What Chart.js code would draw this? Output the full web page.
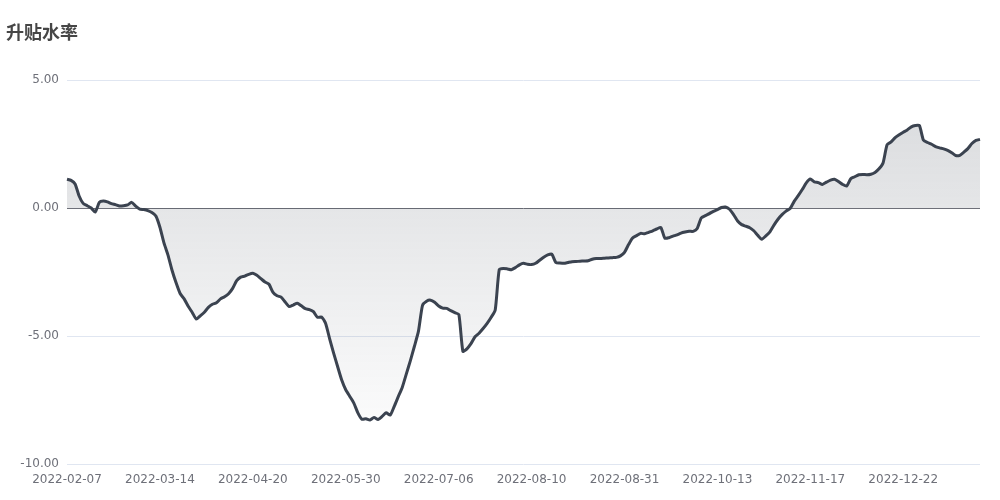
<!DOCTYPE html>
<html>
<head>
<meta charset="utf-8">
<script src="https://cdn.jsdelivr.net/npm/chart.js@4/dist/chart.umd.min.js"></script>
<style>
  html, body { margin: 0; padding: 0; background: #fff; }
  #wrap { width: 1000px; height: 500px; }
</style>
</head>
<body>
<div id="wrap"><canvas id="premiumChart" width="1000" height="500"></canvas></div>
<script>
// dates shown on the x axis, one every 23 points
const tickDates = ['2022-02-07', '2022-03-14', '2022-04-20', '2022-05-30', '2022-07-06',
  '2022-08-10', '2022-08-31', '2022-10-13', '2022-11-17', '2022-12-22'];
const tickEvery = 23;

// 升贴水率 (%)
const rates = [
  1.12, 1.08, 0.94, 0.47, 0.18, 0.09, 0.00, -0.16, 0.22, 0.27,
  0.24, 0.17, 0.13, 0.08, 0.09, 0.12, 0.22, 0.07, -0.04, -0.06,
  -0.10, -0.18, -0.31, -0.75, -1.36, -1.84, -2.43, -2.92, -3.34, -3.55,
  -3.84, -4.08, -4.34, -4.21, -4.07, -3.88, -3.76, -3.70, -3.55, -3.47,
  -3.35, -3.14, -2.84, -2.70, -2.66, -2.59, -2.55, -2.63, -2.76, -2.89,
  -2.98, -3.30, -3.43, -3.48, -3.67, -3.85, -3.79, -3.72, -3.82, -3.93,
  -3.97, -4.05, -4.27, -4.26, -4.50, -5.10, -5.67, -6.20, -6.72, -7.10,
  -7.36, -7.62, -8.00, -8.25, -8.23, -8.28, -8.18, -8.26, -8.14, -8.00,
  -8.09, -7.75, -7.37, -7.00, -6.48, -5.96, -5.40, -4.81, -3.80, -3.64,
  -3.60, -3.68, -3.83, -3.91, -3.92, -4.01, -4.09, -4.16, -5.60, -5.50,
  -5.30, -5.03, -4.89, -4.71, -4.51, -4.27, -3.98, -2.40, -2.36, -2.38,
  -2.41, -2.33, -2.22, -2.16, -2.20, -2.21, -2.16, -2.04, -1.92, -1.83,
  -1.80, -2.13, -2.15, -2.16, -2.13, -2.10, -2.09, -2.08, -2.07, -2.06,
  -2.00, -1.97, -1.97, -1.96, -1.95, -1.94, -1.93, -1.87, -1.73, -1.43,
  -1.17, -1.08, -0.99, -1.01, -0.95, -0.89, -0.82, -0.76, -1.18, -1.16,
  -1.10, -1.05, -0.98, -0.94, -0.91, -0.91, -0.80, -0.39, -0.30, -0.22,
  -0.13, -0.06, 0.02, 0.04, -0.05, -0.26, -0.51, -0.65, -0.71, -0.77,
  -0.89, -1.07, -1.22, -1.09, -0.93, -0.67, -0.44, -0.26, -0.12, -0.02,
  0.26, 0.48, 0.72, 0.98, 1.13, 1.02, 0.99, 0.92, 1.01, 1.09,
  1.12, 1.03, 0.92, 0.86, 1.14, 1.22, 1.30, 1.31, 1.30, 1.32,
  1.39, 1.53, 1.76, 2.47, 2.58, 2.75, 2.86, 2.96, 3.05, 3.17,
  3.22, 3.22, 2.65, 2.56, 2.49, 2.40, 2.35, 2.31, 2.25, 2.16,
  2.05, 2.06, 2.18, 2.32, 2.52, 2.64, 2.68
];

// only the known dates get a label, the rest stay blank
const labels = rates.map((v, i) => (i % tickEvery === 0 && tickDates[i / tickEvery]) ? tickDates[i / tickEvery] : '');

const lineColor = '#3b4350';
const tickColor = '#6e7079';

const ctx = document.getElementById('premiumChart').getContext('2d');
new Chart(ctx, {
  type: 'line',
  data: {
    labels: labels,
    datasets: [{
      label: '升贴水率',
      data: rates,
      borderColor: lineColor,
      borderWidth: 3,
      borderJoinStyle: 'round',
      pointRadius: 0,
      tension: 0.2,
      fill: 'origin',
      backgroundColor: (c) => {
        const area = c.chart.chartArea;
        if (!area) return 'rgba(59,67,80,0.12)';
        const g = c.chart.ctx.createLinearGradient(0, area.top, 0, area.bottom);
        g.addColorStop(0, 'rgba(59,67,80,0.20)');
        g.addColorStop(1, 'rgba(59,67,80,0.00)');
        return g;
      }
    }]
  },
  options: {
    responsive: false,
    animation: false,
    layout: { padding: { left: 6, right: 20, top: 0, bottom: 0 } },
    plugins: {
      legend: { display: false },
      tooltip: { enabled: false },
      title: {
        display: true,
        text: '升贴水率',
        align: 'start',
        color: '#464646',
        font: { family: '"Noto Sans CJK SC", "Noto Sans", sans-serif', size: 18, weight: 'bold' },
        padding: { top: 21, bottom: 37.4 }
      }
    },
    scales: {
      x: {
        offset: false,
        grid: { display: false },
        border: { display: false },
        ticks: {
          autoSkip: false,
          maxRotation: 0,
          padding: 1,
          color: tickColor,
          font: { family: '"DejaVu Sans", sans-serif', size: 12 }
        },
        afterFit: (scale) => { scale.height = 36; }
      },
      y: {
        min: -10,
        max: 5,
        border: { display: false },
        grid: {
          color: (c) => c.tick && c.tick.value === 0 ? '#6e7079' : '#e0e6f1',
          drawTicks: false
        },
        ticks: {
          stepSize: 5,
          padding: 8,
          color: tickColor,
          font: { family: '"DejaVu Sans", sans-serif', size: 12 },
          callback: (v) => Number(v).toFixed(2)
        },
        afterFit: (scale) => { scale.width = 61; }
      }
    }
  }
});
</script>
</body>
</html>
